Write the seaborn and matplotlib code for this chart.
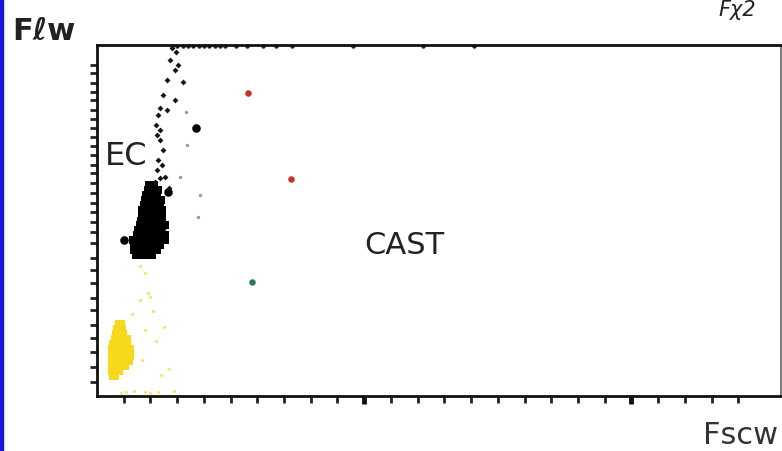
import numpy as np
import matplotlib
matplotlib.use("Agg")
import matplotlib.pyplot as plt
from matplotlib.patches import Rectangle
import seaborn as sns

# dense black (EC) core, channel units 0-255
ec_core_x = [19.5, 21.5,
             19, 21, 23,
             18.5, 20.5, 22.5,
             18, 20, 22, 24,
             17.5, 19.5, 21.5, 23.5,
             17, 19, 21, 23, 24.5,
             17, 19, 21, 23, 24.5,
             16.5, 18.5, 20.5, 22.5, 24.5,
             16, 18, 20, 22, 24, 25.5,
             15.5, 17.5, 19.5, 21.5, 23.5,
             15, 17, 19, 21, 23, 25.5,
             13.5, 15, 17, 19, 21, 23, 25.5,
             14, 16, 18, 20, 22, 23.5,
             14, 16, 18, 20, 22.5,
             14.5, 16.5, 18.5, 20.5]
ec_core_y = [154, 154,
             150, 150, 150,
             146.5, 146.5, 146.5,
             143, 143, 143, 143,
             139, 139, 139, 139,
             135.5, 135.5, 135.5, 135.5, 135.5,
             132, 132, 132, 132, 132,
             128, 128, 128, 128, 128,
             124.5, 124.5, 124.5, 124.5, 124.5, 124.5,
             121, 121, 121, 121, 121,
             117.5, 117.5, 117.5, 117.5, 117.5, 117.5,
             113.5, 113.5, 113.5, 113.5, 113.5, 113.5, 113.5,
             110, 110, 110, 110, 110, 110,
             106.5, 106.5, 106.5, 106.5, 106.5,
             103, 103, 103, 103]

# larger isolated black events
ec_big_x = [37.1, 26.6, 24.3, 10.0]
ec_big_y = [195.4, 149.0, 123.0, 113.7]

# sparse trail above the core
ec_trail_x = [28.1, 29.6, 27.3, 30.3, 29.2, 26.2, 32.2, 24.7, 29.2, 23.6, 26.2, 22.8,
              22.1, 23.6, 22.5, 23.6, 24.7, 22.8, 22.5, 24.3, 23.6, 21.7, 27.0, 25.5]
ec_trail_y = [253.7, 250.8, 245.0, 241.3, 237.7, 230.4, 228.9, 219.4, 215.8, 210.0, 208.5, 204.8,
              197.6, 193.9, 190.3, 186.6, 179.3, 172.0, 164.8, 168.4, 159.0, 156.0, 151.6, 160.0]

# faint grey events
grey_x = [38.6, 37.8, 33.7, 33.3, 31.0]
grey_y = [146.5, 130.5, 183.0, 207.0, 160.0]

# saturated events along the top edge
top_x = [28, 30, 32, 34, 36, 38, 40, 42, 44, 46, 48, 52, 56, 62, 67, 73, 96, 122, 141]
top_y = [255] * len(top_x)

# yellow cluster near origin
yel_core_x = [8.5, 8, 9, 7.5, 9.5, 7, 9, 11, 6.5, 8.5, 10.5, 6, 8, 10, 12,
              6, 8, 10, 12, 6, 8, 10, 11.5, 6, 8, 10, 6, 8, 6.5]
yel_core_y = [51.8, 48.1, 48.1, 44.5, 44.5, 40.8, 40.8, 40.8, 37.2, 37.2, 37.2,
              33.5, 33.5, 33.5, 33.5, 29.9, 29.9, 29.9, 29.9, 26.2, 26.2, 26.2, 26.2,
              22.6, 22.6, 22.6, 19.0, 19.0, 15.3]
yel_sparse_x = [16, 18, 19, 20, 16, 21, 18, 22, 17, 24, 14, 18, 9, 23, 27, 13, 25, 11, 20, 29]
yel_sparse_y = [95, 90, 75, 72, 70, 62, 48, 40, 26, 15, 4, 3, 2.5, 3, 20, 60, 50, 3, 2, 4]

red_x = [56.6, 72.7]
red_y = [220.9, 158.2]
green_x = [58.1]
green_y = [83.1]

y_tick_pos = [241.3, 235.5, 228.2, 221.6, 215.8, 208.5, 201.9, 195.4, 188.8, 182.3,
              175.7, 168.4, 162.6, 155.3, 148.0, 140.7, 134.1, 126.8, 119.6, 111.5,
              100.6, 91.9, 82.4, 71.4, 62.7, 51.8, 42.3, 32.1, 21.1, 10.2]

sns.set_style("white")
plt.rcParams["font.family"] = ["DejaVu Sans"]

fig = plt.figure(figsize=(7.82, 4.51), dpi=100)
ax = fig.add_axes([97 / 782, 55 / 451, 684 / 782, 351 / 451])

sns.scatterplot(x=yel_sparse_x, y=yel_sparse_y, ax=ax, color="#f3dc3a", s=6,
                linewidth=0, alpha=0.7)
sns.scatterplot(x=yel_core_x, y=yel_core_y, ax=ax, color="#f6d81c", s=45,
                marker="s", linewidth=0)
sns.scatterplot(x=ec_core_x, y=ec_core_y, ax=ax, color="black", s=40,
                marker="s", linewidth=0)
sns.scatterplot(x=ec_big_x, y=ec_big_y, ax=ax, color="black", s=38, linewidth=0)
sns.scatterplot(x=ec_trail_x, y=ec_trail_y, ax=ax, color="#151515", s=9,
                marker="D", linewidth=0)
sns.scatterplot(x=grey_x, y=grey_y, ax=ax, color="#999999", s=6, linewidth=0)
sns.scatterplot(x=top_x, y=top_y, ax=ax, color="#222222", s=10, linewidth=0,
                clip_on=False)
sns.scatterplot(x=red_x, y=red_y, ax=ax, color="#c8302c", s=22, linewidth=0)
sns.scatterplot(x=green_x, y=green_y, ax=ax, color="#2f7a52", s=22, linewidth=0)

ax.set_xlim(0, 256)
ax.set_ylim(0, 256)

ax.set_xticks([100, 200])
ax.set_xticks(np.arange(10, 250, 10), minor=True)
ax.set_yticks(y_tick_pos)
ax.set_xticklabels([])
ax.set_yticklabels([])
ax.tick_params(axis="x", which="major", direction="out", length=6, width=3.5,
               color="#111111", bottom=True)
ax.tick_params(axis="x", which="minor", direction="out", length=5, width=2,
               color="#222222", bottom=True)
ax.tick_params(axis="y", which="major", direction="out", length=5, width=2,
               color="#222222", left=True)

for side in ["left", "bottom", "top"]:
    ax.spines[side].set_color("#111111")
    ax.spines[side].set_linewidth(2)
ax.spines["right"].set_color("#666666")
ax.spines["right"].set_linewidth(1.2)

ax.text(3.0, 175, "EC", fontsize=23, color="#222222", va="center", ha="left")
ax.text(100, 110, "CAST", fontsize=22, color="#222222", va="center", ha="left")

fig.text(12 / 782, 1 - 40 / 451, "F\u2113w", fontsize=22, color="#222222",
         fontweight="bold", va="baseline", ha="left")
fig.text(778 / 782, 1 - 444 / 451, "Fscw", fontsize=22, color="#333333",
         va="baseline", ha="right")
fig.text(718 / 782, 1.0, "F\u03c72", fontsize=15, color="#222222",
         style="italic", va="top", ha="left")

fig.patches.append(Rectangle((0, 0), 3 / 782, 1, transform=fig.transFigure,
                             color="#1a14d8", zorder=10))

fig.savefig("out.png", dpi=100)
